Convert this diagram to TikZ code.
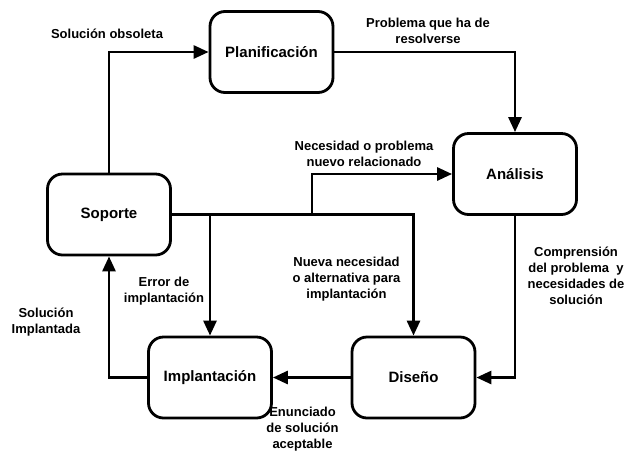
\documentclass[tikz,border=0pt]{standalone}
\usepackage{fontspec}
\setmainfont{Liberation Sans}
\usetikzlibrary{arrows.meta}
\begin{document}
\begin{tikzpicture}[x=1pt,y=-1pt,
  box/.style={draw,line width=2.8pt,rounded corners=15pt,minimum width=123pt,minimum height=81pt,inner sep=0pt,font=\fontsize{15}{18}\selectfont\bfseries},
  arr/.style={line width=2.8pt,-{Triangle[length=15pt,width=13pt]}},
  lab/.style={align=center,inner sep=0pt,font=\fontsize{13}{16}\selectfont\bfseries}]
\useasboundingbox (0,0) rectangle (626,451);
\node[box] (plan) at (271.5,52) {Planificación};
\node[box] (ana) at (515,174) {Análisis};
\node[box] (sop) at (109,214.5) {Soporte};
\node[box] (imp) at (210,377.5) {Implantación};
\node[box] (dis) at (413.5,377.5) {Diseño};
\coordinate (br) at (312,214.5);
\draw[arr] (sop.north) |- (plan.west);
\draw[arr] (plan.east) -| (ana.north);
\draw[arr] (ana.south) |- (dis.east);
\draw[arr] (dis.west) -- (imp.east);
\draw[arr] (imp.west) -| (sop.south);
\draw[arr] (sop.east) -| (dis.north);
\draw[arr] (sop.east -| imp.north) -- (imp.north);
\draw[arr] (br) |- (ana.west);
\node[lab] (l1) at (107,34) {Solución obsoleta};
\node[lab] (l2) at (428,31) {Problema que ha de\\resolverse};
\node[lab] (l3) at (364,154) {Necesidad o problema\\nuevo relacionado};
\node[lab] (l4) at (164,291.5) {Error de\\implantación};
\node[lab] (l5) at (46,322) {Solución\\Implantada};
\node[lab] (l6) at (346.5,279) {Nueva necesidad\\o alternativa para\\implantación};
\node[lab] (l7) at (576,275.5) {Comprensión\\del problema\ \ y\\necesidades de\\solución};
\node[lab] (l8) at (302.5,429) {Enunciado\\de solución\\aceptable};
\end{tikzpicture}
\end{document}
